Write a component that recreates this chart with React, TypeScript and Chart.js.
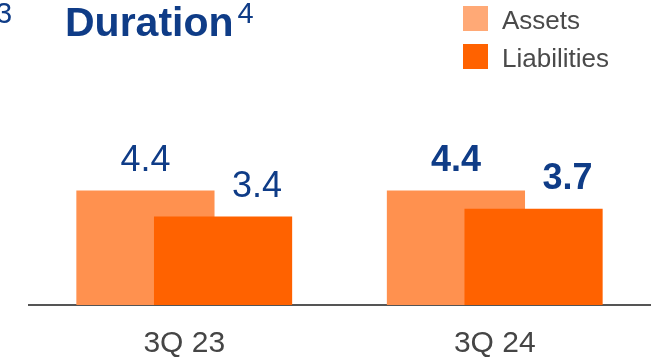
import React, { useEffect, useRef } from "react";
import { Chart, registerables } from "chart.js";

Chart.register(...registerables);

const categories = ["3Q 23", "3Q 24"];
const seriesNames = ["Assets", "Liabilities"];
const assets = [4.4, 4.4];
const liabilities = [3.4, 3.7];
const boldLabels = [false, true];
const titleText = "Duration";
const titleSup = "4";
const strayNote = "3";

const FONT = '"Liberation Sans", Arial, sans-serif';
const BLUE = "#0f3c87";
const ASSET_COLOR = "#ff914f";
const ASSET_LEGEND = "#ffa976";
const LIAB_COLOR = "#ff6200";
const GREY_TEXT = "#4a4a4a";

// draw datasets in index order so later series sit on top of earlier ones
const drawOrderPlugin = {
  id: "drawOrder",
  beforeDatasetsDraw(chart: any) {
    const n = chart.data.datasets.length;
    for (let i = 0; i < n; i++) {
      const meta = chart.getDatasetMeta(i);
      if (meta.visible !== false) meta.controller.draw();
    }
    return false;
  },
};

const overlayPlugin = {
  id: "overlay",
  afterDraw(chart: any) {
    const ctx = chart.ctx;
    ctx.save();
    // value labels
    chart.data.datasets.forEach((ds: any, di: number) => {
      const meta = chart.getDatasetMeta(di);
      meta.data.forEach((bar: any, i: number) => {
        const v = ds.data[i];
        ctx.font = `${boldLabels[i] ? "bold " : ""}36px ${FONT}`;
        ctx.fillStyle = BLUE;
        ctx.textAlign = "center";
        ctx.textBaseline = "alphabetic";
        const dx = di === 1 ? 34 : 0;
        ctx.fillText(v.toFixed(1), bar.x + dx, bar.y - 20);
      });
    });
    // title
    ctx.textAlign = "left";
    ctx.textBaseline = "alphabetic";
    ctx.fillStyle = BLUE;
    ctx.font = `29px ${FONT}`;
    ctx.fillText(strayNote, -4, 23);
    ctx.font = `bold 41px ${FONT}`;
    ctx.fillText(titleText, 65, 36);
    const w = ctx.measureText(titleText).width;
    ctx.font = `29px ${FONT}`;
    ctx.fillText(titleSup, 65 + w + 4, 23);
    // legend
    const legendColors = [ASSET_LEGEND, LIAB_COLOR];
    seriesNames.forEach((name, i) => {
      const y0 = 6 + i * 38;
      ctx.fillStyle = legendColors[i];
      ctx.fillRect(463, y0, 25, 25);
      ctx.fillStyle = GREY_TEXT;
      ctx.font = `26px ${FONT}`;
      ctx.fillText(name, 502, y0 + 23);
    });
    ctx.restore();
  },
};

export default function App() {
  const ref = useRef<HTMLCanvasElement | null>(null);
  useEffect(() => {
    document.body.style.margin = "0";
    const chart = new Chart(ref.current as HTMLCanvasElement, {
      type: "bar",
      data: {
        labels: categories,
        datasets: [
          {
            label: seriesNames[0],
            data: assets,
            backgroundColor: ASSET_COLOR,
            categoryPercentage: 0.5,
            barPercentage: 1.78,
          },
          {
            label: seriesNames[1],
            data: liabilities,
            backgroundColor: LIAB_COLOR,
            categoryPercentage: 0.5,
            barPercentage: 1.78,
          },
        ],
      },
      options: {
        responsive: false,
        animation: false,
        layout: { padding: { left: 29, right: 6, top: 123, bottom: 0 } },
        plugins: { legend: { display: false }, tooltip: { enabled: false } },
        scales: {
          x: {
            grid: { display: false, drawTicks: false },
            border: { display: true, color: "#555555", width: 2 },
            ticks: {
              color: "#454545",
              padding: 24,
              font: { family: FONT, size: 30, lineHeight: 1 },
            },
            afterFit: (scale: any) => {
              scale.height = 55;
            },
          },
          y: { display: false, min: 0, max: 7 },
        },
      },
      plugins: [drawOrderPlugin, overlayPlugin],
    });
    return () => chart.destroy();
  }, []);
  return (
    <div style={{ position: "absolute", left: 0, top: 0, width: 656, height: 360 }}>
      <canvas ref={ref} width={656} height={360} style={{ display: "block" }} />
    </div>
  );
}
